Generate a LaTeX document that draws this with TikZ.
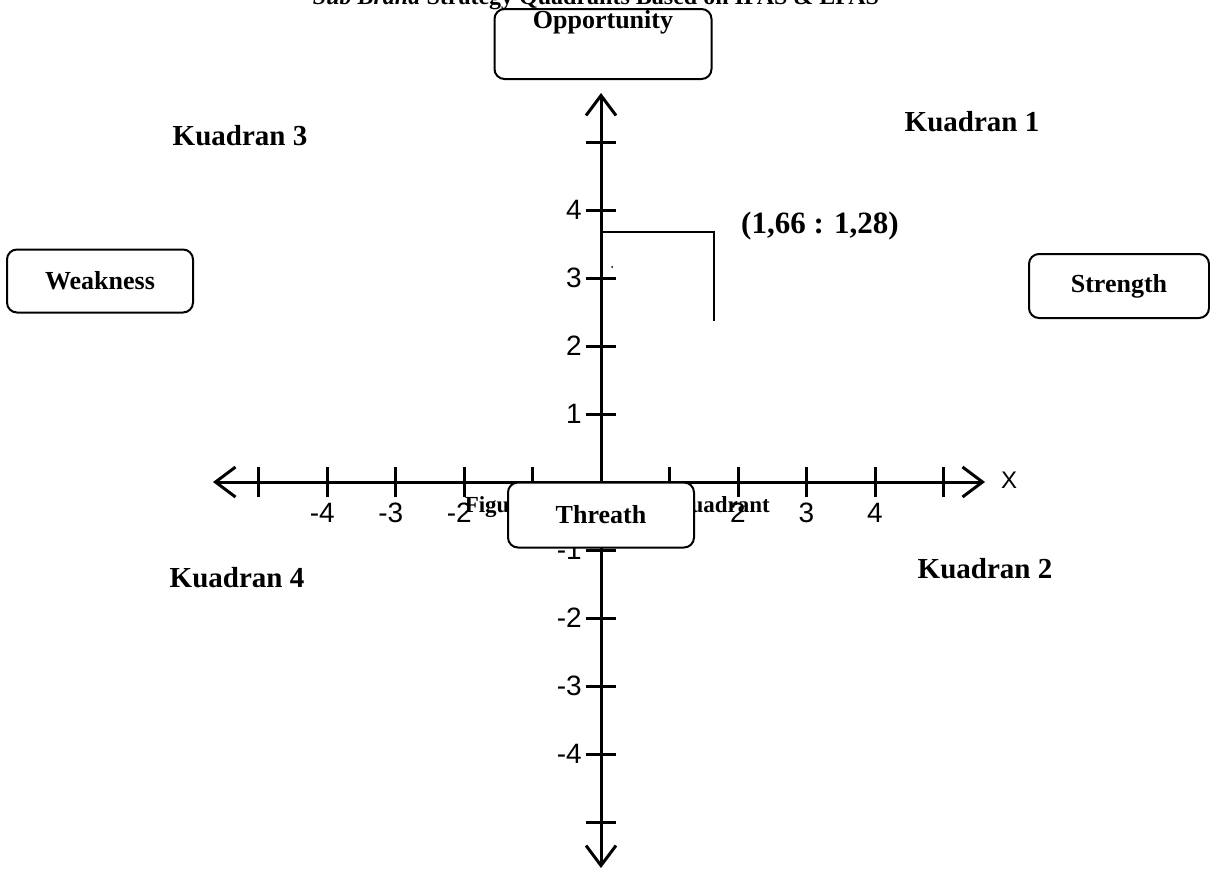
\documentclass[tikz,border=0pt]{standalone}
\usepackage{fontspec}
\setmainfont{Liberation Serif}
\setsansfont{Liberation Sans}
\usetikzlibrary{arrows.meta,positioning}

\begin{document}
\begin{tikzpicture}[x=1pt,y=-1pt,
  axisline/.style={line width=3pt,{Straight Barb[length=20pt,width=30pt]}-{Straight Barb[length=20pt,width=30pt]}},
  tickline/.style={line width=3pt},
  roundnode/.style={rectangle,rounded corners=10pt,draw,line width=2pt,fill=white,inner sep=0pt,font=\fontsize{26}{30}\selectfont\bfseries},
  quadnode/.style={inner sep=0pt,font=\fontsize{29}{32}\selectfont\bfseries},
  ticknode/.style={inner sep=0pt,font=\sffamily\fontsize{28}{30}\selectfont}]

\useasboundingbox (0,0) rectangle (1210,870);

% title, cut by the page
\node [quadnode,anchor=base,font=\fontsize{24}{28}\selectfont\bfseries] (title) at (596,5) {\textit{Sub Brand} Strategy Quadrants Based on IFAS \& EFAS};

\coordinate (xl) at (213,482);
\coordinate (xr) at (985,482);
\coordinate (yt) at (601,93);
\coordinate (yb) at (601,868);

\draw [axisline] (xl) to (xr);
\draw [axisline] (yt) to (yb);

\foreach \i in {-5,...,5} {
  \draw [tickline] (601+68.5*\i,467) -- (601+68.5*\i,497);
  \draw [tickline] (586,482-68*\i) -- (616,482-68*\i);
}
\foreach \i in {-4,...,-1} {
  \node [ticknode,anchor=north] (xt\i) at (601+68.5*\i,503) {\llap{-}\the\numexpr-\i\relax};
  \node [ticknode,anchor=east] (yt\i) at (582,482-68*\i) {-\the\numexpr-\i\relax};
}
\foreach \i in {1,...,4} {
  \node [ticknode,anchor=north] (xt\i) at (601+68.5*\i,503) {\i};
  \node [ticknode,anchor=east] (yt\i) at (582,482-68*\i) {\i};
}
\node [ticknode,font=\sffamily\fontsize{24}{28}\selectfont] (xlabel) at (1009,480) {X};

% point
\node [quadnode,font=\fontsize{31}{34}\selectfont\bfseries] (point) at (820,226) {(1,66 : 1,28)};
\coordinate (p0) at (601,232);
\coordinate (p1) at (714,232);
\coordinate (p2) at (714,321);
\draw [line width=1.2pt] (p0) -- (p1) -- (p2);
\fill (612,267) circle (1pt);

\node [quadnode] (k1) at (972,122) {Kuadran 1};
\node [quadnode] (k3) at (240,136) {Kuadran 3};
\node [quadnode] (k4) at (237,578) {Kuadran 4};
\node [quadnode] (k2) at (985,569) {Kuadran 2};

\node [quadnode,anchor=base east,font=\fontsize{23}{26}\selectfont\bfseries] (fig) at (770,512) {Figure 2. Sub Brand Quadrant};

\node [roundnode,minimum width=217pt,minimum height=70pt,text depth=0pt,anchor=north] (opp) at (603,8) {};
\node [quadnode,font=\fontsize{26}{30}\selectfont\bfseries] (opptext) at (603,22) {Opportunity};
\node [roundnode,minimum width=186pt,minimum height=63pt] (weak) at (100,281) {Weakness};
\node [roundnode,minimum width=180pt,minimum height=64pt] (str) at (1119,286) {Strength};
\node [roundnode,minimum width=186pt,minimum height=65pt] (thr) at (601,515) {Threath};
\end{tikzpicture}
\end{document}
